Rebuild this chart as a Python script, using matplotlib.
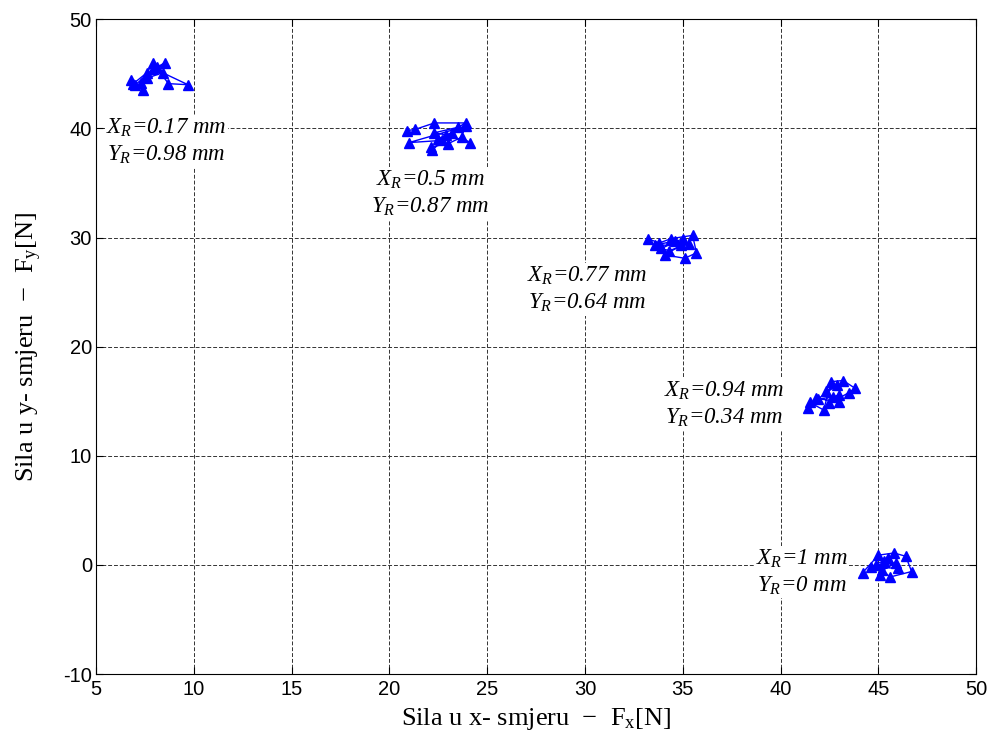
import matplotlib
matplotlib.use("Agg")
import matplotlib.pyplot as plt

plt.rcParams['mathtext.fontset'] = 'custom'
plt.rcParams['mathtext.rm'] = 'Liberation Serif'
plt.rcParams['mathtext.it'] = 'Liberation Serif:italic'
plt.rcParams['axes.unicode_minus'] = False

# measured force points, one cluster per tool position
fx1 = [6.8, 7.4, 6.9, 7.6, 7.9, 8.7, 9.7, 8.4, 7.6, 8.5, 7.9, 7.3, 8.1, 7.0]
fy1 = [44.4, 43.5, 44.1, 45.1, 46.0, 44.1, 44.0, 45.1, 44.6, 46.0, 45.4, 44.2, 45.6, 44.0]
fx2 = [20.9, 21.3, 22.3, 23.9, 23.5, 22.3, 22.9, 24.1, 23.7, 23.0, 22.1, 22.2, 22.7, 21.0, 23.9, 22.5, 23.2]
fy2 = [39.8, 39.9, 40.5, 40.5, 40.1, 39.6, 39.4, 38.7, 39.2, 38.6, 38.3, 38.0, 38.9, 38.7, 40.2, 39.0, 39.6]
fx3 = [33.2, 33.8, 34.4, 35.5, 35.7, 35.1, 34.1, 34.9, 33.6, 34.6, 35.3, 34.3, 33.9, 35.0]
fy3 = [29.9, 29.5, 29.9, 30.2, 28.6, 28.1, 28.4, 29.3, 29.3, 29.7, 29.4, 28.8, 29.0, 29.9]
fx4 = [41.4, 41.5, 42.2, 42.6, 43.2, 43.8, 43.5, 42.5, 43.0, 42.7, 41.9, 42.9, 42.3, 43.0, 41.8]
fy4 = [14.4, 14.9, 14.2, 16.8, 16.9, 16.2, 15.8, 14.8, 15.6, 15.4, 15.2, 16.5, 15.9, 14.9, 15.3]
fx5 = [44.2, 45.0, 45.8, 46.4, 46.7, 45.6, 44.9, 45.9, 45.2, 45.5, 44.6, 46.0, 45.3, 45.1]
fy5 = [-0.7, 0.9, 1.1, 0.8, -0.6, -1.1, 0.0, 0.2, -0.5, 0.6, -0.2, -0.3, 0.4, -0.9]

xr_labels = ["0.17", "0.5", "0.77", "0.94", "1"]
yr_labels = ["0.98", "0.87", "0.64", "0.34", "0"]
label_x = [8.6, 22.1, 30.1, 37.1, 41.1]
label_y = [41.1, 36.3, 27.5, 17.0, 1.6]

xticks = list(range(5, 51, 5))
yticks = list(range(-10, 51, 10))

fig = plt.figure(figsize=(9.91, 7.4), dpi=100)
ax = fig.add_axes([0.097, 0.089, 0.888, 0.885])

for fx, fy in [(fx1, fy1), (fx2, fy2), (fx3, fy3), (fx4, fy4), (fx5, fy5)]:
    ax.plot(fx, fy, color='blue', lw=1.0, marker='^', ms=6.5, zorder=3)

for i in range(5):
    txt = r'$X_R$=' + xr_labels[i] + ' mm\n' + r'$Y_R$=' + yr_labels[i] + ' mm'
    ax.text(label_x[i], label_y[i], txt, family='Liberation Serif', fontstyle='italic',
            fontsize=16.5, va='top', ha='center', multialignment='center',
            linespacing=1.28, zorder=4,
            bbox=dict(facecolor='white', edgecolor='none', pad=1))

ax.set_xlim(5, 50)
ax.set_ylim(-10, 50)
ax.set_xticks(xticks)
ax.set_yticks(yticks)
ax.grid(True, color='#333333', ls=(0, (4, 2)), lw=0.7)
ax.set_axisbelow(True)
ax.tick_params(axis='x', pad=4)
ax.tick_params(axis='y', pad=3)
ax.tick_params(direction='in', labelsize=14.5, length=5, top=True, right=True)
for lab in ax.get_xticklabels() + ax.get_yticklabels():
    lab.set_family('Liberation Sans')

ax.set_xlabel(r'Sila u x- smjeru  $-$  F$_{\mathrm{x}}$[N]', family='Liberation Serif', fontsize=19, labelpad=5)
ax.set_ylabel(r'Sila u y- smjeru  $-$  F$_{\mathrm{y}}$[N]', family='Liberation Serif', fontsize=19, labelpad=14)

fig.savefig('out.png', dpi=100)
